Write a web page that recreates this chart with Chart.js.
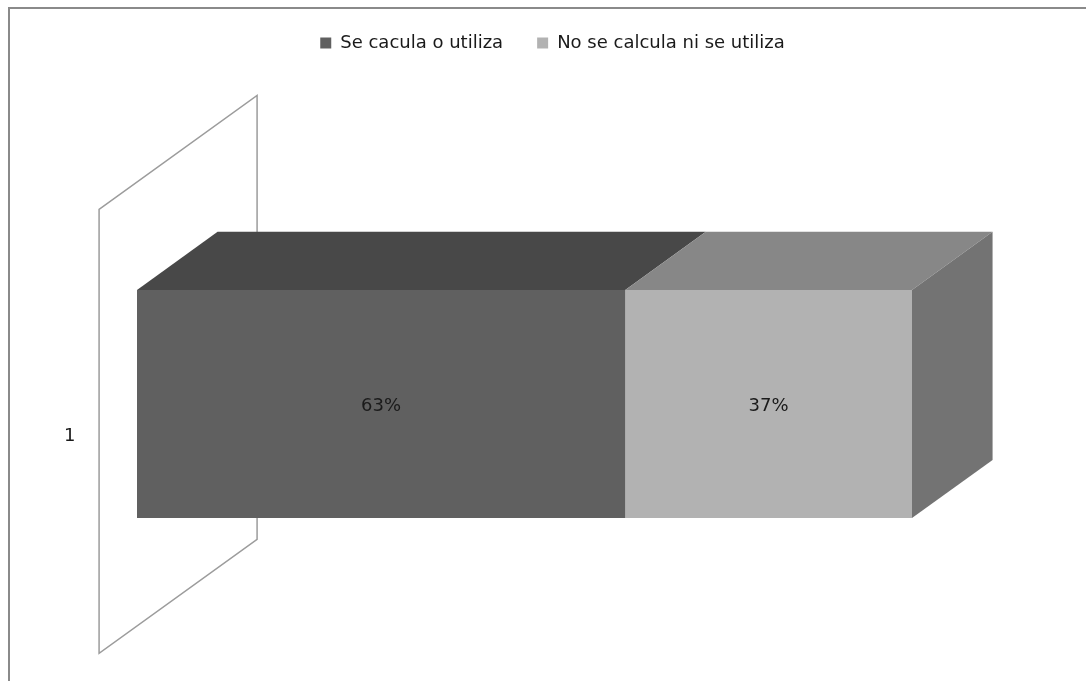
<!DOCTYPE html>
<html>
<head>
<meta charset="utf-8">
<script src="https://cdn.jsdelivr.net/npm/chart.js@4.4.1/dist/chart.umd.min.js"></script>
<style>
  html, body { margin: 0; padding: 0; background: #fff; overflow: hidden; }
  #frame { position: absolute; left: 8px; top: 7px; width: 1100px; height: 700px;
           border-top: 2px solid #8a8a8a; border-left: 2px solid #8a8a8a; }
  #wrap { position: absolute; left: 0; top: 0; width: 1086px; height: 681px; }
</style>
</head>
<body>
<div id="frame"></div>
<div id="wrap"><canvas id="bar3d" width="1086" height="681"></canvas></div>
<script>
  // data
  let categories = ['1'];
  let seriesNames = ['Se cacula o utiliza', 'No se calcula ni se utiliza'];
  let seCalcula = [63];
  let noCalcula = [37];

  let frontColors = ['#606060', '#b2b2b2'];
  let topColors = ['#484848', '#878787'];
  let sideColor = '#737373';

  // fake 3d: depth of the wall and where the bar sits in it
  const DEPTH = { dx: 158, dy: -114, front: 0.24, back: 0.75 };

  const box3d = {
    id: 'box3d',
    beforeDatasetsDraw(chart) {
      const { ctx, chartArea, scales } = chart;
      const x0 = scales.x.getPixelForValue(0);
      const top = chartArea.top, bot = chartArea.bottom;
      const sx = t => (t - DEPTH.front) * DEPTH.dx;
      const sy = t => (t - DEPTH.front) * DEPTH.dy;

      ctx.save();
      // back wall outline
      ctx.strokeStyle = '#9c9c9c';
      ctx.lineWidth = 1.5;
      ctx.beginPath();
      ctx.moveTo(x0 + sx(0), top + sy(0));
      ctx.lineTo(x0 + sx(1), top + sy(1));
      ctx.lineTo(x0 + sx(1), bot + sy(1));
      ctx.lineTo(x0 + sx(0), bot + sy(0));
      ctx.closePath();
      ctx.stroke();

      // top faces + right side
      const ddx = (DEPTH.back - DEPTH.front) * DEPTH.dx;
      const ddy = (DEPTH.back - DEPTH.front) * DEPTH.dy;
      const n = chart.data.datasets.length;
      chart.data.datasets.forEach((ds, i) => {
        const bar = chart.getDatasetMeta(i).data[0];
        const { x, base, y, height } = bar.getProps(['x', 'base', 'y', 'height'], true);
        const bt = y - height / 2, bb = y + height / 2;
        ctx.fillStyle = topColors[i];
        ctx.beginPath();
        ctx.moveTo(base, bt);
        ctx.lineTo(x, bt);
        ctx.lineTo(x + ddx, bt + ddy);
        ctx.lineTo(base + ddx, bt + ddy);
        ctx.closePath();
        ctx.fill();
        if (i === n - 1) {
          ctx.fillStyle = sideColor;
          ctx.beginPath();
          ctx.moveTo(x, bt);
          ctx.lineTo(x + ddx, bt + ddy);
          ctx.lineTo(x + ddx, bb + ddy);
          ctx.lineTo(x, bb);
          ctx.closePath();
          ctx.fill();
        }
      });
      ctx.restore();
    },
    afterDatasetsDraw(chart) {
      const ctx = chart.ctx;
      ctx.save();
      ctx.font = '18px "DejaVu Sans"';
      ctx.fillStyle = '#1a1a1a';
      ctx.textAlign = 'center';
      ctx.textBaseline = 'middle';
      chart.data.datasets.forEach((ds, i) => {
        const bar = chart.getDatasetMeta(i).data[0];
        const { x, base, y } = bar.getProps(['x', 'base', 'y'], true);
        ctx.fillText(ds.data[0] + '%', (x + base) / 2, y + 2);
      });
      ctx.restore();
    }
  };

  let ctx = document.getElementById('bar3d').getContext('2d');
  let chart = new Chart(ctx, {
    type: 'bar',
    data: {
      labels: categories,
      datasets: [{
        label: seriesNames[0],
        backgroundColor: frontColors[0],
        borderWidth: 0,
        data: seCalcula,
        categoryPercentage: 1,
        barPercentage: 0.514
      }, {
        label: seriesNames[1],
        backgroundColor: frontColors[1],
        borderWidth: 0,
        data: noCalcula,
        categoryPercentage: 1,
        barPercentage: 0.514
      }]
    },
    options: {
      indexAxis: 'y',
      responsive: false,
      animation: false,
      events: [],
      layout: { padding: { left: 64, right: 45, top: 0, bottom: 55 } },
      plugins: {
        tooltip: { enabled: false },
        legend: {
          position: 'top',
          labels: {
            boxWidth: 11,
            boxHeight: 11,
            padding: 34,
            color: '#1a1a1a',
            font: { family: '"DejaVu Sans"', size: 18 }
          }
        }
      },
      scales: {
        x: {
          stacked: true,
          position: 'top',
          min: 0,
          max: 100,
          grid: { display: false, drawTicks: false },
          border: { display: false },
          ticks: { display: false },
          afterFit: s => { s.height = 182 - s.chart.legend.height; }
        },
        y: {
          stacked: true,
          grid: { display: false, drawTicks: false },
          border: { display: false },
          ticks: {
            padding: 0,
            crossAlign: 'far',
            labelOffset: 32,
            color: '#1a1a1a',
            font: { family: '"DejaVu Sans"', size: 18 }
          },
          afterFit: s => { s.width = 73; }
        },
        yRight: {
          type: 'linear',
          position: 'right',
          grid: { display: false, drawTicks: false },
          border: { display: false },
          ticks: { display: false },
          afterFit: s => { s.width = 129; }
        }
      }
    },
    plugins: [box3d]
  });
</script>
</body>
</html>
